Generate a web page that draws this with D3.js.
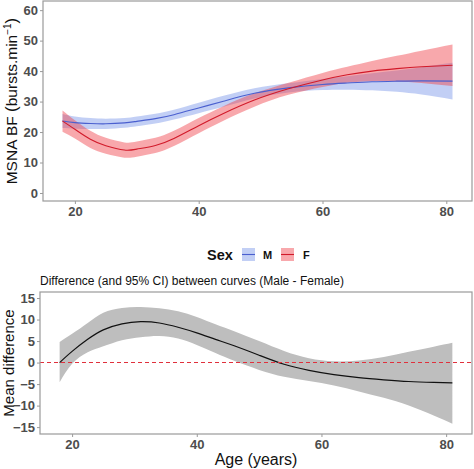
<!DOCTYPE html>
<html><head><meta charset="utf-8">
<script src="https://cdn.jsdelivr.net/npm/d3@7"></script>
<style>
html,body{margin:0;padding:0;background:#fff;}
svg{display:block;font-family:"Liberation Sans",Arial,sans-serif;}
</style></head>
<body><svg id="c" width="474" height="469"></svg>
<script>
// ---- Top panel data: fitted MSNA BF by age and sex (with 95% CI half-width)
const ageTop   = [18, 20, 22.5, 25, 28, 30, 33, 36, 40, 44, 49, 54.5, 60, 64, 68, 72, 76, 81];
const maleFit  = [23.6, 23.1, 22.8, 22.7, 23.0, 23.5, 24.4, 25.7, 27.9, 30.1, 32.7, 34.5, 35.6, 36.1, 36.5, 36.7, 36.8, 36.7];
const maleHW   = [2.3, 2.0, 1.8, 1.7, 1.6, 1.6, 1.6, 1.6, 1.7, 1.8, 1.7, 1.5, 1.8, 2.2, 2.8, 3.5, 4.5, 6.0];
const femFit   = [23.6, 20.9, 17.6, 15.5, 14.1, 14.4, 15.6, 17.9, 22.1, 26.1, 30.5, 34.2, 37.1, 38.8, 40.0, 40.8, 41.4, 41.9];
const femHW    = [3.5, 3.0, 2.8, 2.6, 2.5, 2.5, 2.5, 2.5, 2.5, 2.4, 2.2, 2.0, 2.3, 2.6, 3.3, 4.2, 5.3, 6.8];

// ---- Bottom panel data: mean difference (Male - Female) and 95% CI
const ageDiff  = [18, 20, 22.5, 25, 28, 31, 34, 37, 40, 43, 46, 50, 54, 58, 62, 66, 70, 74, 78, 81];
const diffMean = [0, 2.6, 5.4, 7.6, 9.0, 9.5, 9.2, 8.2, 6.9, 5.4, 3.9, 1.7, -0.4, -1.8, -2.8, -3.5, -4.0, -4.4, -4.6, -4.7];
const diffUp   = [4.8, 6.7, 9.2, 11.6, 12.7, 12.9, 12.6, 11.9, 10.6, 8.9, 7.3, 5.0, 2.7, 1.0, 0.3, 0.5, 1.3, 2.5, 3.7, 4.6];
const diffLo   = [-4.6, -0.3, 2.4, 3.8, 5.2, 5.9, 6.2, 5.6, 4.1, 2.2, 0.4, -1.7, -3.3, -4.3, -5.3, -6.7, -8.2, -10.0, -12.3, -14.2];

const xTicks = [20, 40, 60, 80];
const yTicksTop = [0, 10, 20, 30, 40, 50, 60];
const yTicksBot = [-15, -10, -5, 0, 5, 10, 15];
const sexLevels = ["M", "F"];

const svg = d3.select("#c");
const tickCol = "#4d4d4d", borderCol = "#9a9a9a";

function panel(g, x, y, yt, x0, x1, y0, y1) {
  g.append("rect").attr("x", x0).attr("y", y0).attr("width", x1 - x0).attr("height", y1 - y0)
    .attr("fill", "none").attr("stroke", borderCol).attr("stroke-width", 1.2);
  const ax = g.append("g").attr("transform", `translate(0,${y1})`)
    .call(d3.axisBottom(x).tickValues(xTicks).tickSize(3).tickPadding(3).tickFormat(d3.format("d")));
  const ay = g.append("g").attr("transform", `translate(${x0},0)`)
    .call(d3.axisLeft(y).tickValues(yt).tickSize(3).tickPadding(2).tickFormat(d3.format("d")));
  [ax, ay].forEach(a => {
    a.select(".domain").remove();
    a.selectAll("line").attr("stroke", borderCol);
    a.selectAll("text").attr("fill", tickCol).attr("font-size", 13).attr("font-weight", "bold")
      .attr("font-family", "Liberation Sans, Arial, sans-serif");
  });
}

// ---------- Top panel
const T = {x0: 43, x1: 472, y0: 1, y1: 201};
const xT = d3.scaleLinear().domain([14.85, 84.15]).range([T.x0, T.x1]);
const yT = d3.scaleLinear().domain([-2.63, 63]).range([T.y1, T.y0]);
const gT = svg.append("g");
const curve = d3.curveNatural;

const series = [
  {key: "M", fit: maleFit, hw: maleHW, band: "rgba(110,140,232,0.42)", line: "#4a5fcf"},
  {key: "F", fit: femFit,  hw: femHW,  band: "rgba(240,62,72,0.45)",  line: "#d11a2a"}
];
series.forEach(s => {
  const pts = ageTop.map((a, i) => ({a, m: s.fit[i], lo: s.fit[i] - s.hw[i], hi: s.fit[i] + s.hw[i]}));
  gT.append("path").datum(pts)
    .attr("d", d3.area().x(d => xT(d.a)).y0(d => yT(d.lo)).y1(d => yT(d.hi)).curve(curve))
    .attr("fill", s.band);
  s.pts = pts;
});
series.forEach(s => {
  gT.append("path").datum(s.pts)
    .attr("d", d3.line().x(d => xT(d.a)).y(d => yT(d.m)).curve(curve))
    .attr("fill", "none").attr("stroke", s.line).attr("stroke-width", 1.1);
});
panel(gT, xT, yT, yTicksTop, T.x0, T.x1, T.y0, T.y1);

// top y label
const yl = svg.append("text").attr("transform", `translate(17,${(T.y0 + T.y1) / 2}) rotate(-90)`)
  .attr("text-anchor", "middle").attr("font-size", 15.5).attr("fill", "#111");
yl.append("tspan").text("MSNA BF ");
yl.append("tspan").text("(").attr("font-size", 17);
yl.append("tspan").text("bursts.min");
yl.append("tspan").text("−1").attr("font-size", 10).attr("dy", -6);
yl.append("tspan").text(")").attr("font-size", 17).attr("dy", 6);

// ---------- Legend
const lg = svg.append("g");
lg.append("text").attr("x", 207).attr("y", 260).attr("font-size", 14.5).attr("font-weight", "bold")
  .attr("fill", "#111").text("Sex");
const keyX = [242, 281], labX = [263, 303];
series.forEach((s, i) => {
  lg.append("rect").attr("x", keyX[i]).attr("y", 248).attr("width", 13).attr("height", 13).attr("fill", s.band);
  lg.append("line").attr("x1", keyX[i]).attr("x2", keyX[i] + 13).attr("y1", 254.5).attr("y2", 254.5)
    .attr("stroke", s.line).attr("stroke-width", 1.1);
  lg.append("text").attr("x", labX[i]).attr("y", 259).attr("font-size", 11).attr("font-weight", "bold")
    .attr("fill", "#111").text(sexLevels[i]);
});

// subtitle
svg.append("text").attr("x", 40).attr("y", 285).attr("font-size", 12).attr("fill", "#111")
  .text("Difference (and 95% CI) between curves (Male - Female)");

// ---------- Bottom panel
const B = {x0: 40, x1: 472, y0: 292, y1: 434};
const xB = d3.scaleLinear().domain([14.85, 84.15]).range([B.x0, B.x1]);
const yB = d3.scaleLinear().domain([-16.6, 16.4]).range([B.y1, B.y0]);
const gB = svg.append("g");
const dpts = ageDiff.map((a, i) => ({a, m: diffMean[i], lo: diffLo[i], hi: diffUp[i]}));
gB.append("path").datum(dpts)
  .attr("d", d3.area().x(d => xB(d.a)).y0(d => yB(d.lo)).y1(d => yB(d.hi)).curve(curve))
  .attr("fill", "#bebebe");
gB.append("path").datum(dpts)
  .attr("d", d3.line().x(d => xB(d.a)).y(d => yB(d.m)).curve(curve))
  .attr("fill", "none").attr("stroke", "#111").attr("stroke-width", 1.2);
gB.append("line").attr("x1", B.x0).attr("x2", B.x1).attr("y1", yB(0)).attr("y2", yB(0))
  .attr("stroke", "#e0303c").attr("stroke-width", 1.1).attr("stroke-dasharray", "4,3");
panel(gB, xB, yB, yTicksBot, B.x0, B.x1, B.y0, B.y1);

svg.append("text").attr("transform", `translate(14,${(B.y0 + B.y1) / 2}) rotate(-90)`)
  .attr("text-anchor", "middle").attr("font-size", 15).attr("fill", "#111").text("Mean difference");
svg.append("text").attr("x", (B.x0 + B.x1) / 2).attr("y", 465).attr("text-anchor", "middle")
  .attr("font-size", 16).attr("fill", "#111").text("Age (years)");
</script></body></html>
